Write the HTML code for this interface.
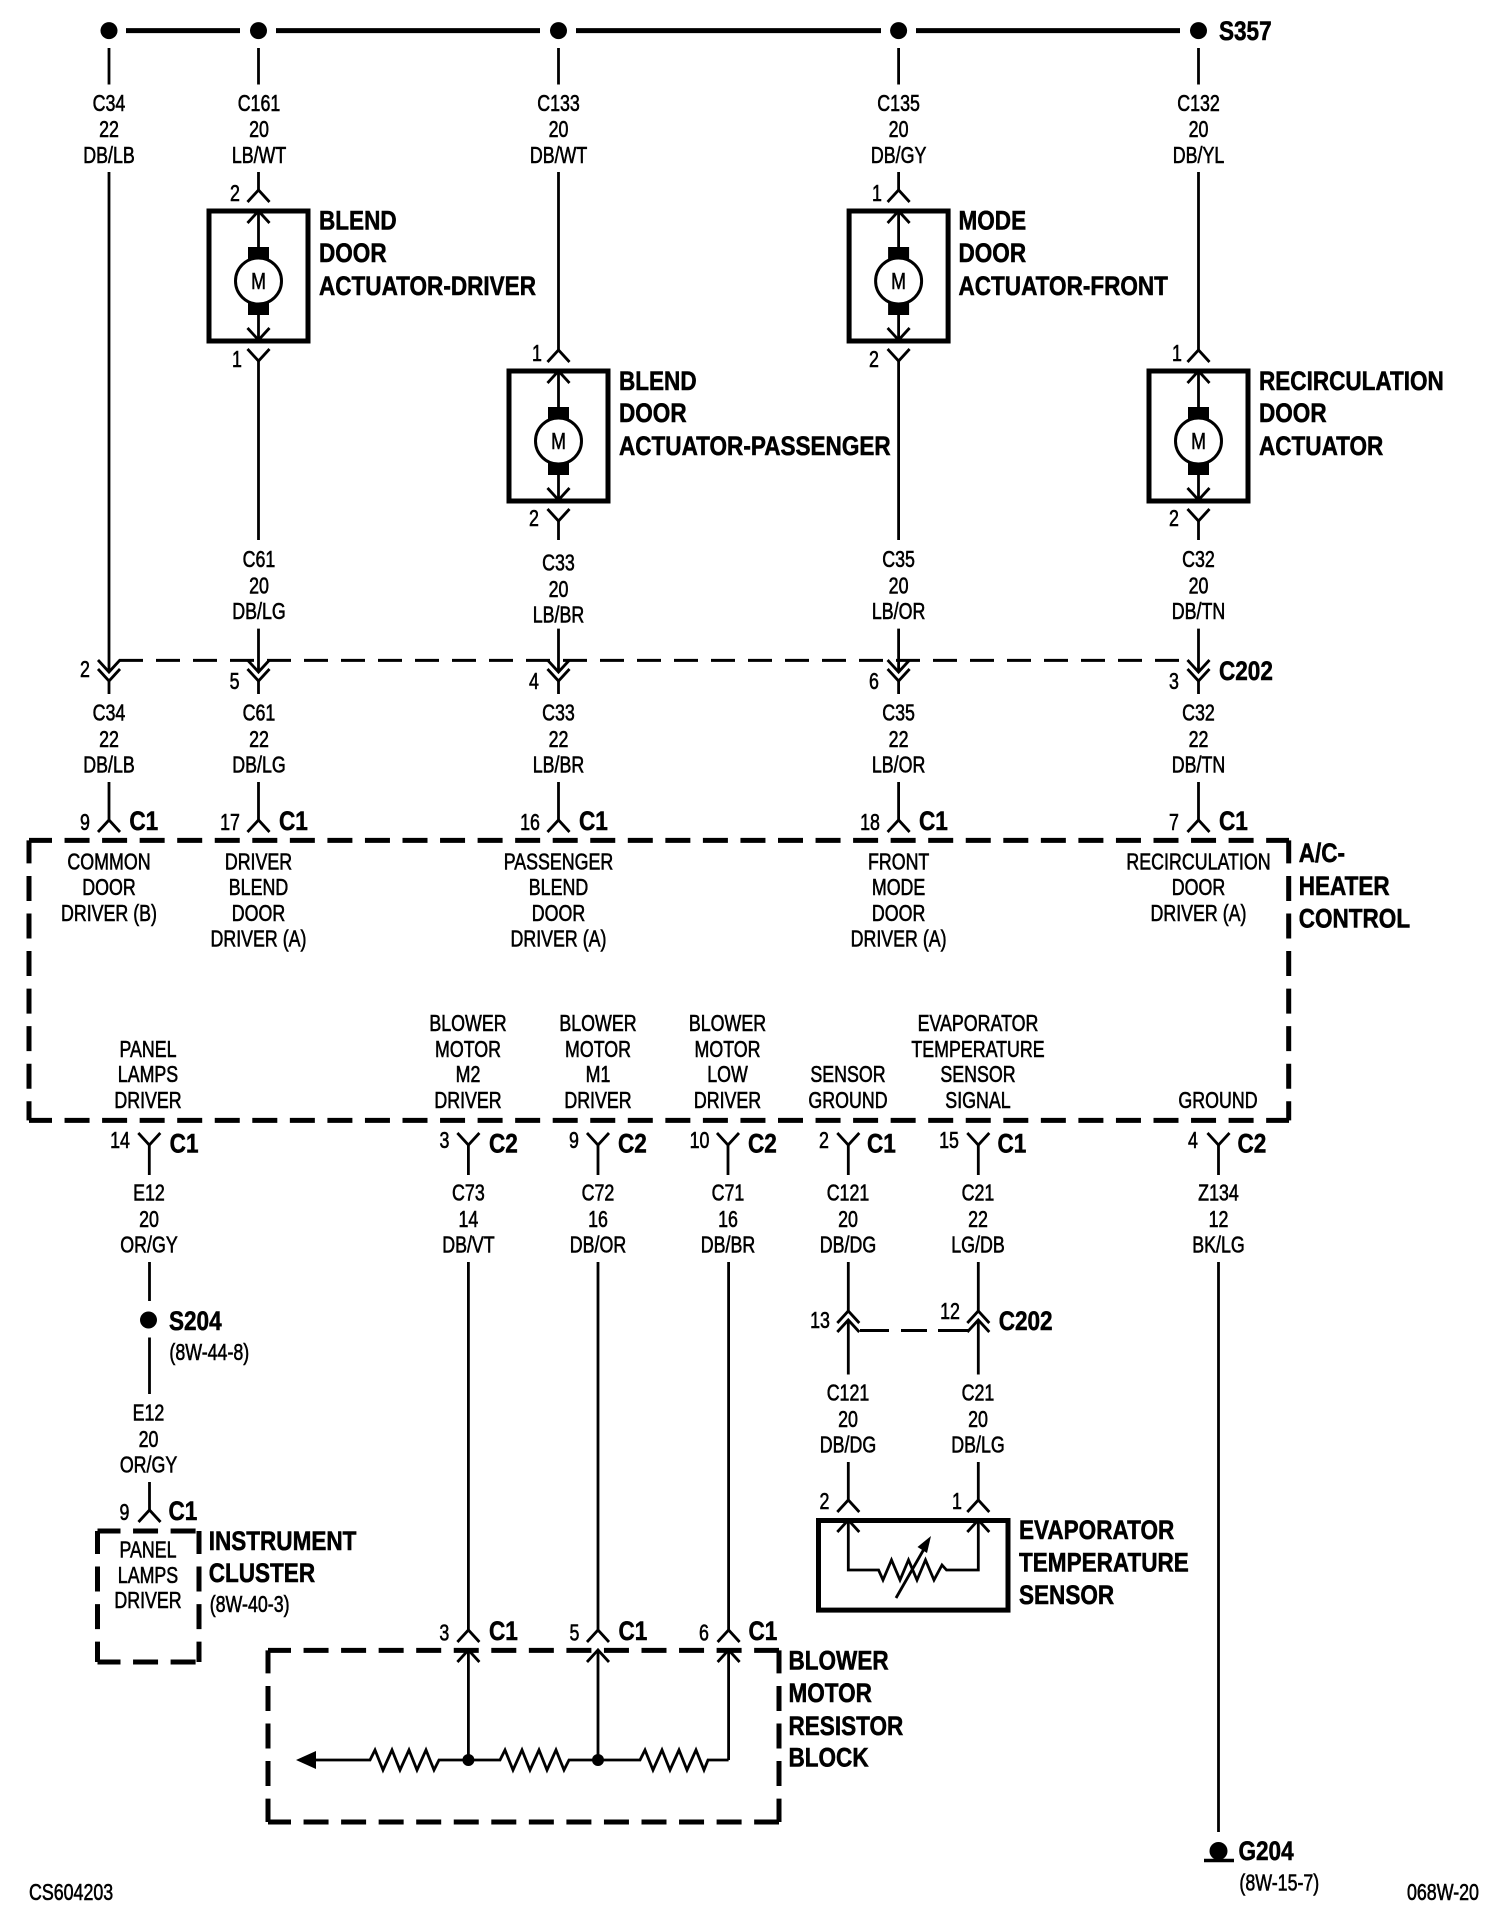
<!DOCTYPE html>
<html><head><meta charset="utf-8"><title>A/C Heater Control Diagram</title>
<style>
html,body{margin:0;padding:0;background:#fff}
svg{display:block}
text{font-family:"Liberation Sans",Arial,sans-serif;fill:#000;stroke:#000;transform-box:fill-box}
.l{font-size:23px;text-anchor:middle;stroke-width:.6;transform:scaleX(.775);transform-origin:50% 50%}
.n{font-size:23px;text-anchor:start;stroke-width:.6;transform:scaleX(.775);transform-origin:0 50%}
.t{font-size:27px;font-weight:bold;text-anchor:start;stroke-width:.55;transform:scaleX(.835);transform-origin:0 50%}
.w{fill:none;stroke:#000;stroke-width:2.8}
.b{fill:none;stroke:#000;stroke-width:5}
.da{fill:none;stroke:#000;stroke-width:5;stroke-dasharray:25 12.55;stroke-dashoffset:2}
</style></head><body>
<svg width="1504" height="1924" viewBox="0 0 1504 1924" xmlns="http://www.w3.org/2000/svg">
<defs>
<path id="u" class="w" d="M-11 12L0 0L11 12"/>
<path id="v" class="w" d="M-11 0L0 12L11 0"/>
<g id="act">
<rect class="b" x="-49.500" y="211" width="99" height="130"/>
<use href="#u" y="211"/>
<use href="#v" y="328"/>
<path class="w" d="M0 211V250M0 312V341"/>
<rect x="-10.500" y="247" width="21" height="13"/>
<rect x="-10.500" y="302" width="21" height="13"/>
<circle cx="0" cy="281" r="23" fill="#fff" stroke="#000" stroke-width="3"/>
<text class="l" x="0" y="289">M</text>
<use href="#u" y="190"/>
<use href="#v" y="349"/>
</g>
</defs>

<!-- top bus -->
<g>
<path d="M126 30.600H240M276 30.600H540M576 30.600H881M916 30.600H1180" stroke="#000" stroke-width="5" fill="none"/>
<circle cx="109" cy="30.600" r="8.500"/><circle cx="258.500" cy="30.600" r="8.500"/><circle cx="558.500" cy="30.600" r="8.500"/><circle cx="898.600" cy="30.600" r="8.500"/><circle cx="1198.500" cy="30.600" r="8.500"/>
<path class="w" d="M109 48V84.500M258.500 48V84.500M558.500 48V84.500M898.600 48V84.500M1198.500 48V84.500"/>
</g>
<text class="t" x="1219" y="40">S357</text>

<!-- top labels -->
<text class="l" x="109" y="111">C34</text><text class="l" x="109" y="137">22</text><text class="l" x="109" y="163">DB/LB</text>
<text class="l" x="259" y="111">C161</text><text class="l" x="259" y="137">20</text><text class="l" x="259" y="163">LB/WT</text>
<text class="l" x="558.500" y="111">C133</text><text class="l" x="558.500" y="137">20</text><text class="l" x="558.500" y="163">DB/WT</text>
<text class="l" x="898.600" y="111">C135</text><text class="l" x="898.600" y="137">20</text><text class="l" x="898.600" y="163">DB/GY</text>
<text class="l" x="1198.500" y="111">C132</text><text class="l" x="1198.500" y="137">20</text><text class="l" x="1198.500" y="163">DB/YL</text>

<!-- wires to actuators -->
<path class="w" d="M109 172V672M258.500 172V190M558.500 172V350M898.600 172V190M1198.500 172V350"/>
<path class="w" d="M258.500 360V540M558.500 520V540M898.600 360V540M1198.500 520V540"/>
<path class="w" d="M258.500 628.600V672M558.500 628.600V672M898.600 628.600V672M1198.500 628.600V672"/>

<!-- actuators -->
<use href="#act" transform="translate(258.500,0)"/>
<use href="#act" transform="translate(558.500,160)"/>
<use href="#act" transform="translate(898.600,0)"/>
<use href="#act" transform="translate(1198.500,160)"/>

<text class="l" x="235" y="201">2</text><text class="l" x="237" y="367">1</text>
<text class="l" x="537" y="361">1</text><text class="l" x="534" y="526">2</text>
<text class="l" x="877" y="201">1</text><text class="l" x="874" y="367">2</text>
<text class="l" x="1177" y="361">1</text><text class="l" x="1174" y="526">2</text>

<text class="t" x="319" y="229.600">BLEND</text><text class="t" x="319" y="262">DOOR</text><text class="t" x="319" y="295">ACTUATOR-DRIVER</text>
<text class="t" x="619" y="390">BLEND</text><text class="t" x="619" y="422">DOOR</text><text class="t" x="619" y="455">ACTUATOR-PASSENGER</text>
<text class="t" x="958.500" y="229.600">MODE</text><text class="t" x="958.500" y="262">DOOR</text><text class="t" x="958.500" y="295">ACTUATOR-FRONT</text>
<text class="t" x="1259" y="390">RECIRCULATION</text><text class="t" x="1259" y="422">DOOR</text><text class="t" x="1259" y="455">ACTUATOR</text>

<!-- mid labels -->
<text class="l" x="259" y="567">C61</text><text class="l" x="259" y="593.500">20</text><text class="l" x="259" y="619">DB/LG</text>
<text class="l" x="558.500" y="570.500">C33</text><text class="l" x="558.500" y="597">20</text><text class="l" x="558.500" y="622.500">LB/BR</text>
<text class="l" x="898.600" y="567">C35</text><text class="l" x="898.600" y="593.500">20</text><text class="l" x="898.600" y="619">LB/OR</text>
<text class="l" x="1198.500" y="567">C32</text><text class="l" x="1198.500" y="593.500">20</text><text class="l" x="1198.500" y="619">DB/TN</text>

<!-- C202 row -->
<path d="M119 660.400H1185" fill="none" stroke="#000" stroke-width="3" stroke-dasharray="24 13"/>
<g id="c202">
<use href="#v" x="109" y="660"/><use href="#v" x="109" y="669"/>
<use href="#v" x="258.500" y="660"/><use href="#v" x="258.500" y="669"/>
<use href="#v" x="558.500" y="660"/><use href="#v" x="558.500" y="669"/>
<use href="#v" x="898.600" y="660"/><use href="#v" x="898.600" y="669"/>
<use href="#v" x="1198.500" y="660"/><use href="#v" x="1198.500" y="669"/>
</g>
<path class="w" d="M109 681V694M258.500 681V694M558.500 681V694M898.600 681V694M1198.500 681V694"/>
<text class="l" x="85" y="677">2</text><text class="l" x="234.600" y="689">5</text><text class="l" x="534" y="689">4</text><text class="l" x="874" y="689">6</text><text class="l" x="1174" y="689">3</text>
<text class="t" x="1219" y="680">C202</text>

<text class="l" x="109" y="720.500">C34</text><text class="l" x="109" y="747">22</text><text class="l" x="109" y="772.500">DB/LB</text>
<text class="l" x="259" y="720.500">C61</text><text class="l" x="259" y="747">22</text><text class="l" x="259" y="772.500">DB/LG</text>
<text class="l" x="558.500" y="720.500">C33</text><text class="l" x="558.500" y="747">22</text><text class="l" x="558.500" y="772.500">LB/BR</text>
<text class="l" x="898.600" y="720.500">C35</text><text class="l" x="898.600" y="747">22</text><text class="l" x="898.600" y="772.500">LB/OR</text>
<text class="l" x="1198.500" y="720.500">C32</text><text class="l" x="1198.500" y="747">22</text><text class="l" x="1198.500" y="772.500">DB/TN</text>

<!-- connectors into control -->
<path class="w" d="M109 782V820M258.500 782V820M558.500 782V820M898.600 782V820M1198.500 782V820"/>
<use href="#u" x="109" y="820"/><use href="#u" x="258.500" y="820"/><use href="#u" x="558.500" y="820"/><use href="#u" x="898.600" y="820"/><use href="#u" x="1198.500" y="820"/>
<text class="l" x="85" y="830">9</text><text class="l" x="230" y="830">17</text><text class="l" x="530" y="830">16</text><text class="l" x="870" y="830">18</text><text class="l" x="1174" y="830">7</text>
<text class="t" x="129.400" y="830">C1</text><text class="t" x="279" y="830">C1</text><text class="t" x="579" y="830">C1</text><text class="t" x="919" y="830">C1</text><text class="t" x="1219" y="830">C1</text>

<!-- control box -->
<path class="da" d="M29 840.400H1289M29 1120.400H1289M29 840.400V1120.400M1288.700 840.400V1120.400"/>
<text class="t" x="1298.700" y="862">A/C-</text><text class="t" x="1298.700" y="895">HEATER</text><text class="t" x="1298.700" y="927.500">CONTROL</text>

<text class="l" x="109" y="869.500">COMMON</text><text class="l" x="109" y="895">DOOR</text><text class="l" x="109" y="921">DRIVER (B)</text>
<text class="l" x="258.500" y="869.500">DRIVER</text><text class="l" x="258.500" y="895">BLEND</text><text class="l" x="258.500" y="921">DOOR</text><text class="l" x="258.500" y="946.500">DRIVER (A)</text>
<text class="l" x="558.500" y="869.500">PASSENGER</text><text class="l" x="558.500" y="895">BLEND</text><text class="l" x="558.500" y="921">DOOR</text><text class="l" x="558.500" y="946.500">DRIVER (A)</text>
<text class="l" x="898.600" y="869.500">FRONT</text><text class="l" x="898.600" y="895">MODE</text><text class="l" x="898.600" y="921">DOOR</text><text class="l" x="898.600" y="946.500">DRIVER (A)</text>
<text class="l" x="1198.500" y="869.500">RECIRCULATION</text><text class="l" x="1198.500" y="895">DOOR</text><text class="l" x="1198.500" y="921">DRIVER (A)</text>

<text class="l" x="148" y="1057">PANEL</text><text class="l" x="148" y="1082">LAMPS</text><text class="l" x="148" y="1108">DRIVER</text>
<text class="l" x="468" y="1031">BLOWER</text><text class="l" x="468" y="1057">MOTOR</text><text class="l" x="468" y="1082">M2</text><text class="l" x="468" y="1108">DRIVER</text>
<text class="l" x="598" y="1031">BLOWER</text><text class="l" x="598" y="1057">MOTOR</text><text class="l" x="598" y="1082">M1</text><text class="l" x="598" y="1108">DRIVER</text>
<text class="l" x="727.500" y="1031">BLOWER</text><text class="l" x="727.500" y="1057">MOTOR</text><text class="l" x="727.500" y="1082">LOW</text><text class="l" x="727.500" y="1108">DRIVER</text>
<text class="l" x="848" y="1082">SENSOR</text><text class="l" x="848" y="1108">GROUND</text>
<text class="l" x="978" y="1031">EVAPORATOR</text><text class="l" x="978" y="1057">TEMPERATURE</text><text class="l" x="978" y="1082">SENSOR</text><text class="l" x="978" y="1108">SIGNAL</text>
<text class="l" x="1218" y="1108">GROUND</text>

<!-- connectors below control -->
<use href="#v" x="149.300" y="1133"/><use href="#v" x="468.400" y="1133"/><use href="#v" x="598" y="1133"/><use href="#v" x="728" y="1133"/><use href="#v" x="848.300" y="1133"/><use href="#v" x="978.300" y="1133"/><use href="#v" x="1218.500" y="1133"/>
<path class="w" d="M149.300 1145V1175M468.400 1145V1175M598 1145V1175M728 1145V1175M848.300 1145V1175M978.300 1145V1175M1218.500 1145V1175"/>
<text class="l" x="120" y="1148">14</text><text class="l" x="444.500" y="1148">3</text><text class="l" x="574" y="1148">9</text><text class="l" x="699.500" y="1148">10</text><text class="l" x="824" y="1148">2</text><text class="l" x="949" y="1148">15</text><text class="l" x="1193" y="1148">4</text>
<text class="t" x="169.700" y="1152.500">C1</text><text class="t" x="489" y="1152.500">C2</text><text class="t" x="618" y="1152.500">C2</text><text class="t" x="748" y="1152.500">C2</text><text class="t" x="867" y="1152.500">C1</text><text class="t" x="997.500" y="1152.500">C1</text><text class="t" x="1237.500" y="1152.500">C2</text>

<text class="l" x="149" y="1200.500">E12</text><text class="l" x="149" y="1227">20</text><text class="l" x="149" y="1252.500">OR/GY</text>
<text class="l" x="468.400" y="1200.500">C73</text><text class="l" x="468.400" y="1227">14</text><text class="l" x="468.400" y="1252.500">DB/VT</text>
<text class="l" x="598" y="1200.500">C72</text><text class="l" x="598" y="1227">16</text><text class="l" x="598" y="1252.500">DB/OR</text>
<text class="l" x="728" y="1200.500">C71</text><text class="l" x="728" y="1227">16</text><text class="l" x="728" y="1252.500">DB/BR</text>
<text class="l" x="848" y="1200.500">C121</text><text class="l" x="848" y="1227">20</text><text class="l" x="848" y="1252.500">DB/DG</text>
<text class="l" x="978" y="1200.500">C21</text><text class="l" x="978" y="1227">22</text><text class="l" x="978" y="1252.500">LG/DB</text>
<text class="l" x="1218.500" y="1200.500">Z134</text><text class="l" x="1218.500" y="1227">12</text><text class="l" x="1218.500" y="1252.500">BK/LG</text>

<!-- S204 / cluster -->
<path class="w" d="M149.500 1262V1301M149.500 1337.500V1394M149.500 1482V1510"/>
<circle cx="148.500" cy="1320" r="8.500"/>
<text class="t" x="169" y="1330">S204</text>
<text class="n" x="169.400" y="1360">(8W-44-8)</text>
<text class="l" x="148.500" y="1420.500">E12</text><text class="l" x="148.500" y="1447">20</text><text class="l" x="148.500" y="1472.500">OR/GY</text>
<use href="#u" x="149.500" y="1510"/>
<text class="l" x="124.500" y="1520">9</text>
<text class="t" x="168.500" y="1520">C1</text>
<path class="da" d="M97.500 1531H199M97.500 1662H199M97.500 1531V1662M199 1531V1662"/>
<text class="l" x="148" y="1557.500">PANEL</text><text class="l" x="148" y="1583">LAMPS</text><text class="l" x="148" y="1608">DRIVER</text>
<text class="t" x="208.700" y="1550">INSTRUMENT</text><text class="t" x="208.700" y="1582">CLUSTER</text>
<text class="n" x="209.700" y="1612">(8W-40-3)</text>

<!-- C202 lower -->
<path class="w" d="M848.300 1262V1311M978.300 1262V1311M848.300 1321V1374.500M978.300 1321V1374.500"/>
<use href="#u" x="848.300" y="1311"/><use href="#u" x="848.300" y="1320"/>
<use href="#u" x="978.300" y="1311"/><use href="#u" x="978.300" y="1320"/>
<path d="M860 1330.500H889M901 1330.500H927M938 1330.500H969" fill="none" stroke="#000" stroke-width="3"/>
<text class="l" x="820" y="1328">13</text><text class="l" x="950" y="1319">12</text>
<text class="t" x="998.700" y="1330">C202</text>
<text class="l" x="848" y="1400.500">C121</text><text class="l" x="848" y="1427">20</text><text class="l" x="848" y="1452.500">DB/DG</text>
<text class="l" x="978" y="1400.500">C21</text><text class="l" x="978" y="1427">20</text><text class="l" x="978" y="1452.500">DB/LG</text>

<!-- Evaporator sensor -->
<path class="w" d="M848.300 1462V1500M978.300 1462V1500"/>
<use href="#u" x="848.300" y="1500"/><use href="#u" x="978.300" y="1500"/>
<text class="l" x="824.500" y="1509">2</text><text class="l" x="957" y="1509">1</text>
<rect class="b" x="818.500" y="1520.500" width="189.500" height="89.600"/>
<use href="#u" x="848.300" y="1520"/><use href="#u" x="978.300" y="1520"/>
<path class="w" d="M848.300 1520V1570H878.600L883 1580L891.500 1560L900 1580L908.500 1560L917 1580L925.500 1560L934 1580L942 1565L946.500 1570H978.300V1520"/>
<path class="w" d="M896 1598L928 1542"/>
<path d="M931 1536L927 1553L917.500 1547Z"/>
<text class="t" x="1019" y="1539">EVAPORATOR</text><text class="t" x="1019" y="1571.400">TEMPERATURE</text><text class="t" x="1019" y="1604">SENSOR</text>

<!-- blower resistor block -->
<path class="w" d="M468.400 1262V1630M598 1262V1630M728.600 1262V1630"/>
<use href="#u" x="468.400" y="1630"/><use href="#u" x="598" y="1630"/><use href="#u" x="728.600" y="1630"/>
<use href="#u" x="468.400" y="1650"/><use href="#u" x="598" y="1650"/><use href="#u" x="728.600" y="1650"/>
<text class="l" x="444.400" y="1640.500">3</text><text class="l" x="574.500" y="1640.500">5</text><text class="l" x="704" y="1640.500">6</text>
<text class="t" x="489" y="1640">C1</text><text class="t" x="618.500" y="1640">C1</text><text class="t" x="748.500" y="1640">C1</text>
<path class="da" d="M268 1650.400H779M268 1822H779M268 1650.400V1822M779 1650.400V1822"/>
<path class="w" d="M468.400 1650V1760M598 1650V1760M728.600 1650V1760"/>
<path class="w" d="M316 1760H370L375 1750L383 1770L392 1750L400 1770L409 1750L417 1770L426 1750L434 1770L439 1760H500L505 1750L513 1770L522 1750L530 1770L539 1750L547 1770L556 1750L564 1770L569 1760H640L645 1750L653 1770L662 1750L670 1770L679 1750L687 1770L696 1750L704 1770L708 1760H728.600"/>
<path d="M296 1760L316 1751V1769Z"/>
<circle cx="468.400" cy="1760" r="6"/><circle cx="598" cy="1760" r="6"/>
<text class="t" x="788.500" y="1669.500">BLOWER</text><text class="t" x="788.500" y="1702">MOTOR</text><text class="t" x="788.500" y="1735">RESISTOR</text><text class="t" x="788.500" y="1766.500">BLOCK</text>

<!-- ground -->
<path class="w" d="M1218.500 1262V1832"/>
<circle cx="1218.500" cy="1851" r="9"/>
<path d="M1204 1860.500H1234" stroke="#000" stroke-width="3.500" fill="none"/>
<text class="t" x="1238.500" y="1860">G204</text>
<text class="n" x="1239.400" y="1890.500">(8W-15-7)</text>

<text class="n" x="29" y="1900">CS604203</text>
<text class="n" x="1407" y="1900">068W-20</text>
</svg>
</body></html>
